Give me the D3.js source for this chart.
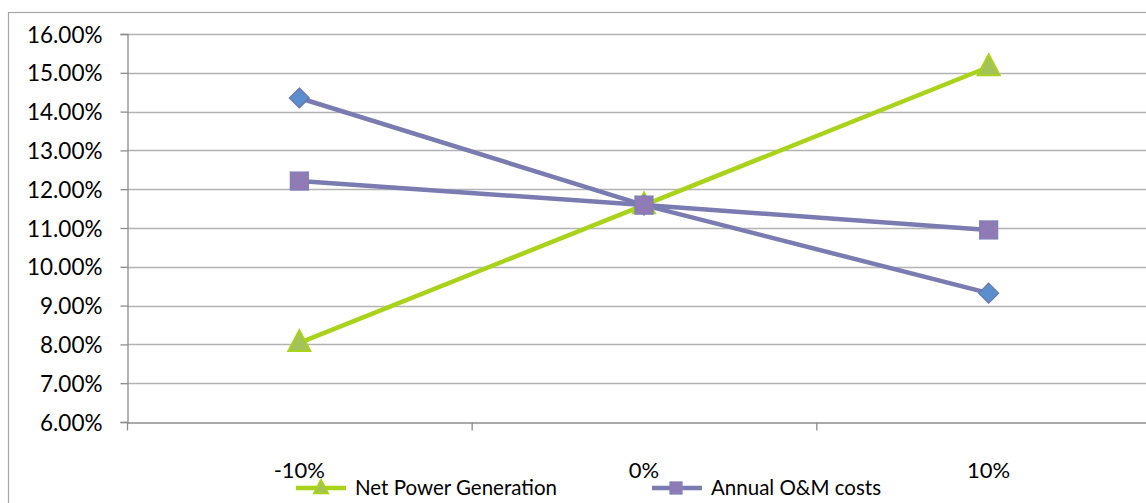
<!DOCTYPE html>
<html>
<head>
<meta charset="utf-8">
<script src="https://cdn.jsdelivr.net/npm/d3@7/dist/d3.min.js"></script>
<style>
  html, body { margin: 0; padding: 0; background: #fff; overflow: hidden; }
  svg { display: block; }
  text { font-family: Lato, "Open Sans", sans-serif; fill: #000; }
</style>
</head>
<body>
<svg id="chart" width="1146" height="503"></svg>
<script>
const categories = ["-10%", "0%", "10%"];
const netPowerGeneration = [0.0804, 0.1159, 0.1515];
const annualOMCosts = [0.1221, 0.1159, 0.1095];
const thirdSeries = [0.1435, 0.1159, 0.0932];
const yTicks = [0.06, 0.07, 0.08, 0.09, 0.10, 0.11, 0.12, 0.13, 0.14, 0.15, 0.16];

const svg = d3.select("#chart");
const plotLeft = 127, plotRight = 1161, plotTop = 34, plotBottom = 422;

// chart border
svg.append("rect").attr("x", 8.5).attr("y", 12.5).attr("width", 1200).attr("height", 600)
  .attr("fill", "none").attr("stroke", "#a6a6a6").attr("stroke-width", 1.2);

const x = d3.scaleBand().domain(categories).range([plotLeft, plotRight]);
const y = d3.scaleLinear().domain([0.06, 0.16]).range([plotBottom, plotTop]);

// gridlines
svg.append("g").selectAll("line").data(yTicks.slice(1)).join("line")
  .attr("x1", plotLeft).attr("x2", plotRight)
  .attr("y1", d => Math.round(y(d)) + 0.5).attr("y2", d => Math.round(y(d)) + 0.5)
  .attr("stroke", "#b3b3b3").attr("stroke-width", 1.3);

// y axis
const yAxis = d3.axisLeft(y).tickValues(yTicks).tickFormat(d3.format(".2%")).tickSize(7).tickPadding(18);
const gy = svg.append("g").attr("transform", `translate(${plotLeft + 0.5},0)`).call(yAxis);
gy.selectAll("path, line").attr("stroke", "#8c8c8c").attr("stroke-width", 1.3);
gy.selectAll("text").attr("font-size", 22.5).attr("dy", "0.36em");

// x axis
const xAxis = d3.axisBottom(x).tickSize(0).tickPadding(40);
const gx = svg.append("g").attr("transform", `translate(0,${plotBottom + 0.5})`).call(xAxis);
gx.select("path").attr("stroke", "#8c8c8c").attr("stroke-width", 1.3);
gx.selectAll("text").attr("font-size", 22);
// category boundary ticks
gx.append("g").selectAll("line").data(categories).join("line")
  .attr("x1", d => x(d) + 0.5).attr("x2", d => x(d) + 0.5)
  .attr("y1", 0).attr("y2", 8).attr("stroke", "#8c8c8c").attr("stroke-width", 1.3);

const cx = d => x(d) + x.bandwidth() / 2;
const line = d3.line().x((d, i) => cx(categories[i])).y(d => y(d));

const purpleLine = "#7a7bb0";
const greenLine = "#a9d21b";

// series lines
svg.append("path").datum(netPowerGeneration).attr("d", line).attr("fill", "none")
  .attr("stroke", greenLine).attr("stroke-width", 4.5);
svg.append("path").datum(thirdSeries).attr("d", line).attr("fill", "none")
  .attr("stroke", purpleLine).attr("stroke-width", 4.5);
svg.append("path").datum(annualOMCosts).attr("d", line).attr("fill", "none")
  .attr("stroke", purpleLine).attr("stroke-width", 4.5);

// markers
function diamond(g, px, py, s) {
  g.append("path").attr("d", `M${px},${py - s}L${px + s},${py}L${px},${py + s}L${px - s},${py}Z`)
    .attr("fill", "#5a8fce").attr("stroke", "#6f74ac").attr("stroke-width", 1.2);
}
function square(g, px, py, s) {
  g.append("rect").attr("x", px - s).attr("y", py - s).attr("width", 2 * s).attr("height", 2 * s)
    .attr("fill", "#9678b5").attr("stroke", "#7d80b8").attr("stroke-width", 1.2);
  g.append("path").attr("d", `M${px - s},${py - s}L${px + s},${py + s}M${px + s},${py - s}L${px - s},${py + s}`)
    .attr("stroke", "#7f82b8").attr("stroke-width", 1.4);
}
function triangle(g, px, py, s) {
  g.append("path").attr("d", `M${px},${py - s * 1.15}L${px + s},${py + s * 0.75}L${px - s},${py + s * 0.75}Z`)
    .attr("fill", "#a3c257").attr("stroke", greenLine).attr("stroke-width", 2);
}

const gm = svg.append("g");
netPowerGeneration.forEach((v, i) => triangle(gm, cx(categories[i]), y(v), 11));
thirdSeries.forEach((v, i) => diamond(gm, cx(categories[i]), y(v), 10));
annualOMCosts.forEach((v, i) => square(gm, cx(categories[i]), y(v), 9));

// legend
const legend = [
  { name: "Net Power Generation", color: greenLine, marker: "triangle", x: 296 },
  { name: "Annual O&M costs", color: purpleLine, marker: "square", x: 652 }
];
const ly = 488;
legend.forEach(l => {
  const g = svg.append("g");
  g.append("line").attr("x1", l.x).attr("x2", l.x + 50).attr("y1", ly).attr("y2", ly)
    .attr("stroke", l.color).attr("stroke-width", 4.5);
  if (l.marker === "triangle") triangle(g, l.x + 25, ly, 7);
  else square(g, l.x + 24, ly, 6);
  g.append("text").attr("x", l.x + 59).attr("y", ly).attr("dy", "0.36em")
    .attr("font-size", 20.5).text(l.name);
});
</script>
</body>
</html>
